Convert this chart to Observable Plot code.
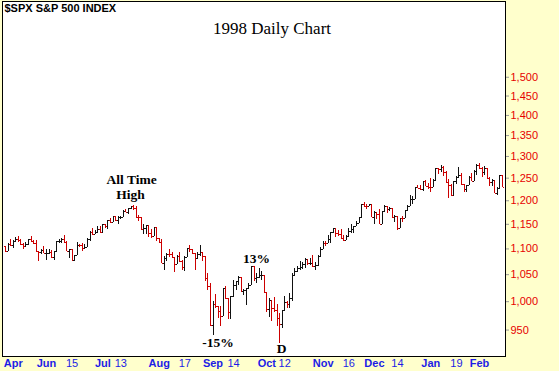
<!DOCTYPE html>
<html><head><meta charset="utf-8">
<script src="https://cdn.jsdelivr.net/npm/d3@7"></script>
<script src="https://cdn.jsdelivr.net/npm/@observablehq/plot@0.6"></script>
<style>html,body{margin:0;padding:0;background:#ffffcc;}</style>
</head><body><div id="chart"></div>
<script>
// Trading days shown (May 1998 – Feb 1999)
const dates = [
"1998-05-07","1998-05-08","1998-05-11","1998-05-12","1998-05-13","1998-05-14","1998-05-15","1998-05-18","1998-05-19","1998-05-20","1998-05-21","1998-05-22","1998-05-26","1998-05-27","1998-05-28","1998-05-29",
"1998-06-01","1998-06-02","1998-06-03","1998-06-04","1998-06-05","1998-06-08","1998-06-09","1998-06-10","1998-06-11","1998-06-12","1998-06-15","1998-06-16","1998-06-17","1998-06-18","1998-06-19","1998-06-22","1998-06-23","1998-06-24","1998-06-25","1998-06-26","1998-06-29","1998-06-30",
"1998-07-01","1998-07-02","1998-07-06","1998-07-07","1998-07-08","1998-07-09","1998-07-10","1998-07-13","1998-07-14","1998-07-15","1998-07-16","1998-07-17","1998-07-20","1998-07-21","1998-07-22","1998-07-23","1998-07-24","1998-07-27","1998-07-28","1998-07-29","1998-07-30","1998-07-31",
"1998-08-03","1998-08-04","1998-08-05","1998-08-06","1998-08-07","1998-08-10","1998-08-11","1998-08-12","1998-08-13","1998-08-14","1998-08-17","1998-08-18","1998-08-19","1998-08-20","1998-08-21","1998-08-24","1998-08-25","1998-08-26","1998-08-27","1998-08-28","1998-08-31",
"1998-09-01","1998-09-02","1998-09-03","1998-09-04","1998-09-08","1998-09-09","1998-09-10","1998-09-11","1998-09-14","1998-09-15","1998-09-16","1998-09-17","1998-09-18","1998-09-21","1998-09-22","1998-09-23","1998-09-24","1998-09-25","1998-09-28","1998-09-29","1998-09-30",
"1998-10-01","1998-10-02","1998-10-05","1998-10-06","1998-10-07","1998-10-08","1998-10-09","1998-10-12","1998-10-13","1998-10-14","1998-10-15","1998-10-16","1998-10-19","1998-10-20","1998-10-21","1998-10-22","1998-10-23","1998-10-26","1998-10-27","1998-10-28","1998-10-29","1998-10-30",
"1998-11-02","1998-11-03","1998-11-04","1998-11-05","1998-11-06","1998-11-09","1998-11-10","1998-11-11","1998-11-12","1998-11-13","1998-11-16","1998-11-17","1998-11-18","1998-11-19","1998-11-20","1998-11-23","1998-11-24","1998-11-25","1998-11-27","1998-11-30",
"1998-12-01","1998-12-02","1998-12-03","1998-12-04","1998-12-07","1998-12-08","1998-12-09","1998-12-10","1998-12-11","1998-12-14","1998-12-15","1998-12-16","1998-12-17","1998-12-18","1998-12-21","1998-12-22","1998-12-23","1998-12-24","1998-12-28","1998-12-29","1998-12-30","1998-12-31",
"1999-01-04","1999-01-05","1999-01-06","1999-01-07","1999-01-08","1999-01-11","1999-01-12","1999-01-13","1999-01-14","1999-01-15","1999-01-19","1999-01-20","1999-01-21","1999-01-22","1999-01-25","1999-01-26","1999-01-27","1999-01-28","1999-01-29",
"1999-02-01","1999-02-02","1999-02-03","1999-02-04","1999-02-05","1999-02-08","1999-02-09","1999-02-10","1999-02-11","1999-02-12"
];
const opens = [
1104.9,1095.1,1108.1,1106.6,1115.8,1118.9,1117.4,1108.7,1105.8,1109.5,1119.1,1114.6,1110.5,1094.0,1092.2,1097.6,
1090.8,1090.9,1093.2,1082.7,1094.8,1113.9,1115.7,1118.4,1112.3,1094.6,1098.8,1077.0,1087.6,1107.1,1106.4,1100.7,1103.2,1119.5,1132.9,1129.3,1133.2,1138.5,
1133.8,1148.6,1146.4,1157.3,1154.7,1166.4,1158.6,1164.3,1165.2,1177.6,1174.8,1184.0,1186.8,1184.1,1165.1,1164.1,1139.8,1140.8,1147.3,1130.2,1125.2,1143.0,
1120.7,1112.4,1072.1,1081.4,1089.6,1089.5,1083.1,1069.0,1084.2,1074.9,1062.8,1083.7,1101.2,1098.1,1091.6,1081.2,1088.1,1092.8,1084.2,1042.6,1027.1,
957.3,994.3,990.5,982.3,973.9,1023.5,1006.2,980.2,1009.1,1029.7,1037.7,1045.5,1018.9,1020.1,1023.9,1029.6,1066.1,1042.7,1044.8,1048.7,1049.0,
1017.0,986.4,1002.6,988.6,984.6,970.7,959.4,984.4,997.7,994.8,1005.5,1047.5,1056.4,1062.4,1063.9,1069.9,1078.5,1070.7,1072.3,1065.3,1068.1,1085.9,
1098.7,1111.6,1110.8,1118.7,1133.9,1141.0,1130.2,1128.3,1120.4,1117.7,1125.7,1135.9,1139.3,1144.5,1152.6,1163.6,1192.0,1187.2,1186.9,1192.3,
1163.6,1175.3,1171.3,1150.1,1176.7,1187.7,1181.4,1183.5,1165.0,1166.5,1141.2,1162.8,1161.9,1180.0,1188.0,1202.8,1203.6,1228.5,1226.3,1225.5,1241.8,1231.9,
1229.2,1228.1,1244.8,1272.3,1269.7,1275.1,1263.9,1239.5,1234.4,1212.2,1243.3,1252.0,1256.6,1235.2,1225.2,1234.0,1252.3,1243.2,1265.4,
1279.6,1273.0,1262.0,1272.1,1248.5,1239.4,1243.8,1216.1,1227.6,1256.2
];
const highs = [
1104.9,1111.4,1119.1,1116.0,1122.0,1124.5,1119.0,1111.0,1113.0,1119.1,1124.0,1116.9,1116.0,1094.0,1099.7,1104.2,
1098.7,1098.0,1097.4,1095.0,1113.9,1119.7,1119.9,1126.3,1114.2,1098.8,1098.8,1087.6,1112.9,1108.8,1111.2,1109.0,1121.0,1134.4,1142.0,1136.8,1145.2,1145.0,
1148.6,1148.6,1157.3,1161.9,1166.6,1167.0,1166.2,1166.9,1178.9,1181.6,1184.1,1187.0,1190.6,1187.4,1167.7,1164.3,1150.1,1147.3,1147.3,1138.6,1143.1,1143.0,
1121.0,1119.7,1084.8,1090.0,1098.1,1092.8,1083.1,1087.2,1092.2,1077.3,1085.4,1101.7,1106.1,1098.8,1091.6,1093.0,1106.6,1092.8,1084.2,1051.8,1033.5,
1000.7,1013.2,990.5,991.4,1023.5,1027.7,1006.2,1009.4,1038.4,1037.9,1046.1,1045.5,1022.0,1024.0,1033.9,1066.1,1066.1,1051.9,1061.5,1056.3,1049.0,
1017.0,1005.4,1002.6,1008.4,995.2,979.0,984.4,1008.5,1000.8,1014.4,1053.1,1062.7,1065.2,1075.0,1073.6,1080.2,1078.5,1081.2,1087.1,1072.8,1086.3,1103.8,
1114.4,1115.0,1127.4,1133.9,1141.3,1141.0,1136.5,1139.4,1126.6,1126.7,1142.3,1150.2,1144.5,1155.1,1163.6,1192.0,1196.0,1191.3,1193.0,1192.7,
1175.9,1175.3,1182.2,1176.7,1188.9,1188.5,1185.6,1183.5,1167.7,1166.5,1162.8,1166.3,1180.0,1188.9,1210.9,1209.0,1229.3,1233.9,1232.5,1241.9,1244.9,1237.2,
1248.8,1246.1,1272.5,1272.3,1278.2,1276.2,1264.5,1247.8,1236.8,1243.3,1253.3,1274.1,1260.9,1236.4,1234.0,1253.3,1261.7,1266.4,1280.4,
1283.8,1275.0,1276.0,1272.9,1251.9,1246.9,1244.0,1229.0,1256.2,1256.2
];
const lows = [
1094.0,1095.1,1104.6,1101.0,1114.0,1112.0,1106.0,1097.9,1105.0,1106.0,1111.9,1108.8,1094.0,1074.4,1089.1,1090.0,
1077.1,1089.0,1081.1,1078.1,1094.8,1111.3,1111.3,1110.3,1094.3,1080.8,1077.0,1074.7,1087.6,1103.2,1095.2,1099.4,1103.2,1115.1,1127.6,1129.3,1133.2,1131.0,
1132.5,1142.1,1140.2,1152.2,1153.3,1155.2,1150.6,1160.2,1165.2,1174.8,1171.0,1180.6,1178.4,1163.1,1155.2,1139.8,1129.1,1128.5,1122.1,1121.6,1125.2,1114.3,
1110.4,1071.8,1057.4,1074.9,1084.0,1081.4,1054.0,1069.0,1074.1,1057.8,1055.6,1083.7,1093.4,1089.7,1057.4,1081.2,1086.0,1076.0,1037.6,1020.6,957.3,
940.0,988.4,969.3,956.5,973.9,1004.3,968.6,968.4,1009.1,1021.0,1029.3,1016.0,1011.9,993.8,1022.0,1029.6,1036.8,1033.9,1042.2,1039.0,1015.7,
981.3,971.9,964.7,981.0,956.3,928.0,953.0,984.4,987.6,987.8,1000.1,1047.5,1054.2,1058.0,1060.0,1061.4,1067.4,1068.2,1063.7,1057.2,1065.3,1085.9,
1098.7,1105.3,1110.8,1111.2,1131.4,1123.9,1125.6,1118.9,1115.4,1117.7,1125.7,1130.3,1131.7,1144.5,1152.6,1163.6,1186.5,1181.5,1186.8,1163.6,
1150.3,1160.3,1149.7,1150.1,1176.7,1172.5,1175.9,1164.6,1154.4,1136.9,1141.2,1154.7,1161.9,1178.3,1188.0,1192.7,1203.6,1226.2,1221.4,1220.8,1231.2,1224.0,
1219.1,1228.1,1244.8,1257.7,1261.8,1253.3,1238.3,1205.5,1209.5,1212.2,1234.9,1251.5,1234.6,1217.2,1217.0,1234.0,1241.5,1243.2,1255.2,
1271.3,1252.0,1255.0,1248.4,1232.0,1231.9,1215.6,1211.9,1226.0,1229.2
];
const closes = [
1095.1,1108.1,1106.6,1115.8,1118.9,1117.4,1108.7,1105.8,1109.5,1119.1,1114.6,1110.5,1094.0,1092.2,1097.6,1090.8,
1090.9,1093.2,1082.7,1094.8,1113.9,1115.7,1118.4,1112.3,1094.6,1098.8,1077.0,1087.6,1107.1,1106.4,1100.7,1103.2,1119.5,1132.9,1129.3,1133.2,1138.5,1133.8,
1148.6,1146.4,1157.3,1154.7,1166.4,1158.6,1164.3,1165.2,1177.6,1174.8,1184.0,1186.8,1184.1,1165.1,1164.1,1139.8,1140.8,1147.3,1130.2,1125.2,1143.0,1120.7,
1112.4,1072.1,1081.4,1089.6,1089.5,1083.1,1069.0,1084.2,1074.9,1062.8,1083.7,1101.2,1098.1,1091.6,1081.2,1088.1,1092.8,1084.2,1042.6,1027.1,957.3,
994.3,990.5,982.3,973.9,1023.5,1006.2,980.2,1009.1,1029.7,1037.7,1045.5,1018.9,1020.1,1023.9,1029.6,1066.1,1042.7,1044.8,1048.7,1049.0,1017.0,
986.4,1002.6,988.6,984.6,970.7,959.4,984.4,997.7,994.8,1005.5,1047.5,1056.4,1062.4,1063.9,1069.9,1078.5,1070.7,1072.3,1065.3,1068.1,1085.9,1098.7,
1111.6,1110.8,1118.7,1133.9,1141.0,1130.2,1128.3,1120.4,1117.7,1125.7,1135.9,1139.3,1144.5,1152.6,1163.6,1192.0,1187.2,1186.9,1192.3,1163.6,
1175.3,1171.3,1150.1,1176.7,1187.7,1181.4,1183.5,1165.0,1166.5,1141.2,1162.8,1161.9,1180.0,1188.0,1202.8,1203.6,1228.5,1226.3,1225.5,1241.8,1231.9,1229.2,
1228.1,1244.8,1272.3,1269.7,1275.1,1263.9,1239.5,1234.4,1212.2,1243.3,1252.0,1256.6,1235.2,1225.2,1234.0,1252.3,1243.2,1265.4,1279.6,
1273.0,1262.0,1272.1,1248.5,1239.4,1243.8,1216.1,1227.6,1256.2,1230.1
];
// Axis tick labels
const yTicks = [950,1000,1050,1100,1150,1200,1250,1300,1350,1400,1450,1500];
const monthLabels = ["Apr","Jun","Jul","Aug","Sep","Oct","Nov","Dec","Jan","Feb"];
const monthDates = ["1998-05-12","1998-06-01","1998-07-01","1998-08-03","1998-09-01","1998-10-01","1998-11-02","1998-12-01","1999-01-04","1999-02-01"];
const dayLabels = ["15","13","17","14","12","16","14","19"];
const dayDates = ["1998-06-15","1998-07-13","1998-08-17","1998-09-14","1998-10-12","1998-11-16","1998-12-14","1999-01-19"];
// Annotations
const notes = [
  {text:"All Time", date:"1998-07-20", at:"high"},
  {text:"High", date:"1998-07-20", at:"high"},
  {text:"13%", date:"1998-09-23", at:"high"},
  {text:"-15%", date:"1998-09-01", at:"low"},
  {text:"D", date:"1998-10-08", at:"low"}
];

const bars = dates.map((d, i) => ({
  i, date: d, open: opens[i], high: highs[i], low: lows[i], close: closes[i],
  up: closes[i] >= (i > 0 ? closes[i - 1] : opens[i])
}));
const upBars = bars.filter(d => d.up), downBars = bars.filter(d => !d.up);
const idx = d => dates.indexOf(d);
const monthIdx = monthDates.map(idx), dayIdx = dayDates.map(idx);
const monthMap = new Map(monthIdx.map((k, j) => [k, monthLabels[j]]));
const dayMap = new Map(dayIdx.map((k, j) => [k, dayLabels[j]]));
const noteRow = n => { const b = bars[idx(n.date)]; return {i: b.i, v: b[n.at], text: n.text}; };

function barMarks(data, color) {
  return [
    Plot.ruleX(data, {x: "i", y1: "low", y2: "high", stroke: color, strokeWidth: 1, shapeRendering: "crispEdges"}),
    Plot.link(data, {x1: d => d.i - 0.5, x2: "i", y1: "open", y2: "open", stroke: color, strokeWidth: 1, shapeRendering: "crispEdges"}),
    Plot.link(data, {x1: "i", x2: d => d.i + 0.5, y1: "close", y2: "close", stroke: color, strokeWidth: 1, shapeRendering: "crispEdges"})
  ];
}
const serif = "'Liberation Serif', 'Times New Roman', serif";
const noteStyle = {x: "i", y: "v", text: "text", fontFamily: serif, fontWeight: "bold", fontSize: 13.5, fill: "black", lineAnchor: "middle"};

const chart = Plot.plot({
  width: 559, height: 371,
  marginLeft: 2, marginRight: 54, marginTop: 1, marginBottom: 15,
  style: {background: "#ffffcc", fontFamily: "'Liberation Sans', Arial, sans-serif", fontSize: "11px"},
  x: {type: "linear", domain: [-1.17, 195.17]},
  y: {type: "log", domain: [905.7, 1720]},
  marks: [
    Plot.frame({fill: "white", stroke: "black"}),
    Plot.axisY({anchor: "right", ticks: yTicks, tickSize: 3, tickPadding: 2, color: "#e60000", stroke: "#999999",
      tickFormat: d3.format(","), fontSize: 11, label: null}),
    Plot.axisX({anchor: "bottom", ticks: monthIdx, tickFormat: k => monthMap.get(k), tickSize: 0, tickPadding: 3,
      color: "#1c1ce6", fontWeight: "bold", fontSize: 11, label: null}),
    Plot.axisX({anchor: "bottom", ticks: dayIdx, tickFormat: k => dayMap.get(k), tickSize: 0, tickPadding: 3,
      color: "#1c1ce6", fontSize: 11, label: null}),
    ...barMarks(upBars, "#111111"),
    ...barMarks(downBars, "#cc0000"),
    Plot.text(["$SPX S&P 500 INDEX"], {text: d => d, frameAnchor: "top-left", dx: 2, dy: 3, lineAnchor: "top",
      fontWeight: "bold", fontSize: 11, fill: "black"}),
    Plot.text(["1998 Daily Chart"], {text: d => d, frameAnchor: "top", dx: 18, dy: 27, lineAnchor: "middle",
      fontFamily: serif, fontSize: 17, fill: "black"}),
    Plot.text([noteRow(notes[0])], {...noteStyle, dx: -2, dy: -25}),
    Plot.text([noteRow(notes[1])], {...noteStyle, dx: -3, dy: -10}),
    Plot.text([noteRow(notes[2])], {...noteStyle, dx: 5, dy: -8}),
    Plot.text([noteRow(notes[3])], {...noteStyle, dx: 5, dy: 7}),
    Plot.text([noteRow(notes[4])], {...noteStyle, dx: 2, dy: 6})
  ]
});
document.getElementById("chart").appendChild(chart);
</script>
</body></html>
